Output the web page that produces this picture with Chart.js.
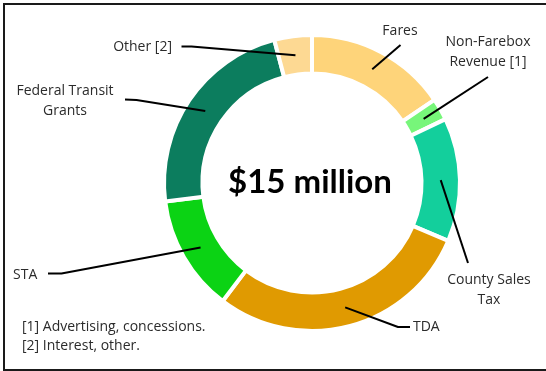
<!DOCTYPE html>
<html>
<head>
<meta charset="utf-8">
<script src="https://cdn.jsdelivr.net/npm/chart.js@4.4.1/dist/chart.umd.min.js"></script>
<style>
  html, body { margin: 0; padding: 0; background: #fff; overflow: hidden; }
  #wrap { position: relative; width: 546px; height: 371px; overflow: hidden; }
  #frame { position: absolute; left: 3px; top: 3px; width: 560px; height: 368px; border: 2px solid #1a1a1a; box-sizing: border-box; pointer-events: none; }
</style>
</head>
<body>
<div id="wrap">
  <canvas id="myChart" width="546" height="371"></canvas>
  <div id="frame"></div>
</div>
<script>
// Ingresos por fuente, en % del total ($15 millones)
const fuentes = ['Fares', 'Non-Farebox Revenue [1]', 'County Sales Tax', 'TDA', 'STA', 'Federal Transit Grants', 'Other [2]'];
const porcentajes = [15.5, 2.4, 13.5, 28.9, 12.7, 22.9, 4.1];
const colores = ['#fed47a', '#77f67a', '#13cf9c', '#e09a01', '#0bd314', '#0c7d5e', '#fdd993'];
const totalTexto = '$15 million';
const notas = ['[1] Advertising, concessions.', '[2] Interest, other.'];

// Donde va cada etiqueta y el quiebre de su linea guia
const etiquetas = [
  { lineas: ['Fares'], x: 400, y: 31, align: 'center', guia: [[400.5, 45]] },
  { lineas: ['Non-Farebox', 'Revenue [1]'], x: 488, y: 42, align: 'center', guia: [[488, 77]] },
  { lineas: ['County Sales', 'Tax'], x: 489, y: 280, align: 'center', guia: [[468, 263]] },
  { lineas: ['TDA'], x: 413, y: 327, align: 'left', guia: [[398, 327], [410, 327]] },
  { lineas: ['STA'], x: 13, y: 275, align: 'left', guia: [[61.5, 273.5], [48, 273.5]] },
  { lineas: ['Federal Transit', 'Grants'], x: 65, y: 91, align: 'center', guia: [[136.5, 100], [125, 99.5]] },
  { lineas: ['Other [2]'], x: 172, y: 47, align: 'right', guia: [[191.5, 46.5], [181.5, 46.5]] }
];

const fuenteTexto = '14px "Open Sans"';

const etiquetasPlugin = {
  id: 'etiquetas',
  afterDraw(chart) {
    const ctx = chart.ctx;
    const arcos = chart.getDatasetMeta(0).data;
    ctx.save();

    // Lineas guia desde el centro de cada arco
    ctx.strokeStyle = '#000';
    ctx.lineWidth = 2;
    ctx.lineJoin = 'round';
    arcos.forEach((arco, i) => {
      const p = arco.tooltipPosition();
      ctx.beginPath();
      ctx.moveTo(p.x, p.y);
      etiquetas[i].guia.forEach(pt => ctx.lineTo(pt[0], pt[1]));
      ctx.stroke();
    });

    // Textos de las etiquetas
    ctx.fillStyle = '#2b2b2b';
    ctx.font = fuenteTexto;
    ctx.textBaseline = 'middle';
    etiquetas.forEach(et => {
      ctx.textAlign = et.align;
      et.lineas.forEach((l, k) => ctx.fillText(l, et.x, et.y + k * 20.5));
    });

    // Notas al pie
    ctx.textAlign = 'left';
    notas.forEach((n, k) => ctx.fillText(n, 22, 327 + k * 19));

    // Total en el centro
    const a = arcos[0];
    ctx.fillStyle = '#000';
    ctx.font = 'bold 33px Lato';
    ctx.textAlign = 'center';
    ctx.fillText(totalTexto, a.x - 2, a.y - 1);
    ctx.restore();
  }
};

var ctx = document.getElementById('myChart').getContext('2d');
new Chart(ctx, {
  type: 'doughnut',
  data: {
    labels: fuentes,
    datasets: [{
      data: porcentajes,
      backgroundColor: colores,
      borderColor: '#ffffff',
      borderWidth: 4
    }]
  },
  options: {
    responsive: false,
    animation: false,
    cutout: '74%',
    layout: {
      padding: { left: 162, right: 84, top: 33, bottom: 38 }
    },
    plugins: {
      legend: { display: false },
      tooltip: { enabled: false }
    }
  },
  plugins: [etiquetasPlugin]
});
</script>
</body>
</html>
